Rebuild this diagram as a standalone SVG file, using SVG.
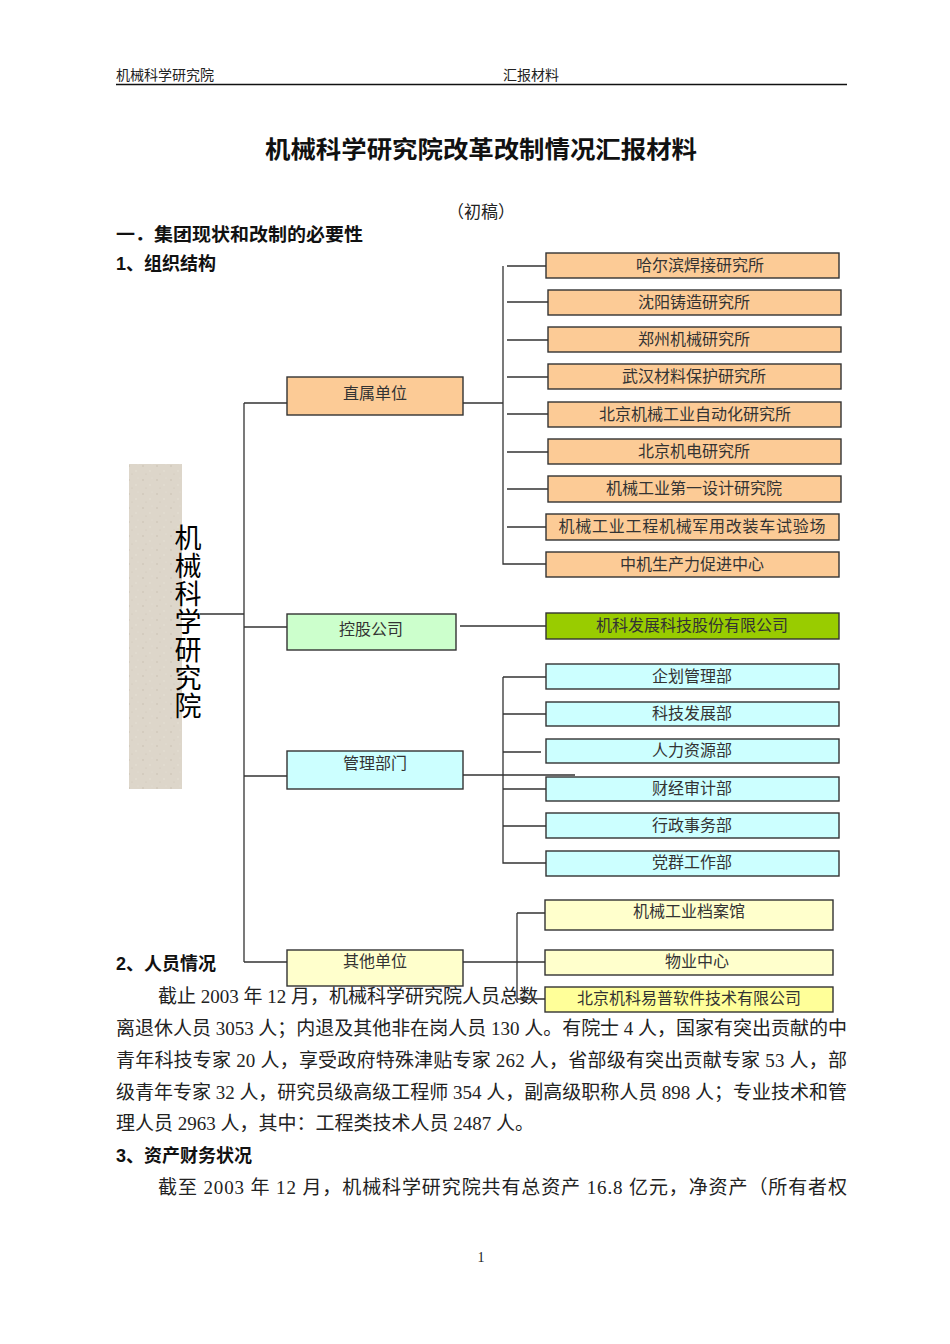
<svg xmlns="http://www.w3.org/2000/svg" width="950" height="1344" viewBox="0 0 950 1344">
<defs>
<pattern id="paper" width="14" height="14" patternUnits="userSpaceOnUse">
<rect width="14" height="14" fill="#DDD6CA"/>
<circle cx="3" cy="4" r="0.8" fill="#C9C0B2"/>
<circle cx="10" cy="9" r="0.7" fill="#EAE4DA"/>
<circle cx="6" cy="12" r="0.6" fill="#CFC6B8"/>
<circle cx="12" cy="2" r="0.5" fill="#E8E2D8"/>
</pattern>
<style>
.hdr{font-family:"Liberation Serif","Noto Sans CJK SC",serif;font-size:14px;fill:#222}
.h{font-family:"Liberation Sans","Noto Sans CJK SC",sans-serif;font-weight:bold;fill:#111}
.body{font-family:"Liberation Serif","Noto Sans CJK SC",serif;font-size:19px;fill:#222}
.box{stroke:#333;stroke-width:1.4}
.or{fill:#FCCB96}
.gr{fill:#CCFFCC}
.ol{fill:#99CC00}
.bl{fill:#CCFFFF}
.yl{fill:#FFFFCC}
.yb{fill:#FFFF99}
.lbl{font-family:"Noto Sans CJK SC",sans-serif;font-size:16px;fill:#333;text-anchor:middle}
.lbs{font-family:"Liberation Serif","Noto Sans CJK SC",serif;font-size:16px;fill:#333;text-anchor:middle}
.con{stroke:#333;stroke-width:1.3;fill:none}
.vt{font-family:"Noto Sans CJK SC",sans-serif;font-size:27px;fill:#000;writing-mode:vertical-rl;letter-spacing:1px}
</style>
</defs>
<rect width="950" height="1344" fill="#fff"/>

<g id="page-text">
<text class="hdr" x="116" y="80">机械科学研究院</text>
<text class="hdr" x="503" y="80">汇报材料</text>
<line x1="116" y1="84.5" x2="847" y2="84.5" stroke="#111" stroke-width="1.5"/>
<text class="h" x="481" y="158" font-size="24" text-anchor="middle" textLength="432" lengthAdjust="spacingAndGlyphs">机械科学研究院改革改制情况汇报材料</text>
<text x="481" y="218" font-family="Liberation Serif,Noto Sans CJK SC,serif" font-size="17" text-anchor="middle" fill="#222">（初稿）</text>
<text class="h" x="116" y="241" font-size="18" textLength="247" lengthAdjust="spacingAndGlyphs">一．集团现状和改制的必要性</text>
<text class="h" x="116" y="270" font-size="18">1、组织结构</text>
<text class="h" x="116" y="970" font-size="18">2、人员情况</text>
<text class="body" x="158" y="1003">截止 2003 年 12 月，机械科学研究院人员总数</text>
<text class="body" x="116" y="1035" textLength="731" lengthAdjust="spacing">离退休人员 3053 人；内退及其他非在岗人员 130 人。有院士 4 人，国家有突出贡献的中</text>
<text class="body" x="116" y="1067" textLength="731" lengthAdjust="spacing">青年科技专家 20 人，享受政府特殊津贴专家 262 人，省部级有突出贡献专家 53 人，部</text>
<text class="body" x="116" y="1099" textLength="731" lengthAdjust="spacing">级青年专家 32 人，研究员级高级工程师 354 人，副高级职称人员 898 人；专业技术和管</text>
<text class="body" x="116" y="1130">理人员 2963 人，其中：工程类技术人员 2487 人。</text>
<text class="h" x="116" y="1162" font-size="18">3、资产财务状况</text>
<text class="body" x="158" y="1194" textLength="689" lengthAdjust="spacing">截至 2003 年 12 月，机械科学研究院共有总资产 16.8 亿元，净资产（所有者权</text>
<text class="hdr" x="481" y="1262" text-anchor="middle">1</text>
</g>

<g id="connectors">
<path class="con" d="M200 614 H244 M244 403 V962 M244 403 H287 M244 627 H287 M244 776 H287 M244 962 H287"/>
<path class="con" d="M463 403 H503 M503 266 V564 H546 M507 266 H546 M507 302 H548 M507 340 H548 M507 377 H548 M507 414 H548 M507 452 H548 M507 489 H548 M507 527 H546"/>
<path class="con" d="M460 626 H546"/>
<path class="con" d="M463 775 H575 M503 677 V863 H546 M503 677 H546 M503 714 H546 M503 752 H541 M503 789 H546 M503 826 H546"/>
<path class="con" d="M463 962 H545 M517 913 V999 H545 M517 913 H545"/>
</g>

<g id="root">
<rect x="129" y="464" width="53" height="325" fill="url(#paper)"/>
<text class="vt" x="188" y="524">机械科学研究院</text>
</g>

<g id="n-zhishu"><rect class="box or" x="287" y="377" width="176" height="38"/><text class="lbl" x="375" y="399">直属单位</text></g>
<g id="n-konggu"><rect class="box gr" x="287" y="614" width="169" height="36"/><text class="lbl" x="371" y="635">控股公司</text></g>
<g id="n-guanli"><rect class="box bl" x="287" y="751" width="176" height="38"/><text class="lbl" x="375" y="769">管理部门</text></g>
<g id="n-qita"><rect class="box yl" x="287" y="950" width="176" height="36"/><text class="lbl" x="375" y="967">其他单位</text></g>

<g id="n-o1"><rect class="box or" x="546" y="253" width="293" height="25"/><text class="lbl" x="700" y="271">哈尔滨焊接研究所</text></g>
<g id="n-o2"><rect class="box or" x="548" y="290" width="293" height="25"/><text class="lbl" x="694" y="308">沈阳铸造研究所</text></g>
<g id="n-o3"><rect class="box or" x="548" y="327" width="293" height="25"/><text class="lbl" x="694" y="345">郑州机械研究所</text></g>
<g id="n-o4"><rect class="box or" x="548" y="364" width="293" height="25"/><text class="lbl" x="694" y="382">武汉材料保护研究所</text></g>
<g id="n-o5"><rect class="box or" x="548" y="402" width="293" height="25"/><text class="lbl" x="695" y="420">北京机械工业自动化研究所</text></g>
<g id="n-o6"><rect class="box or" x="548" y="439" width="293" height="25"/><text class="lbl" x="694" y="457">北京机电研究所</text></g>
<g id="n-o7"><rect class="box or" x="548" y="476" width="293" height="26"/><text class="lbl" x="694" y="494">机械工业第一设计研究院</text></g>
<g id="n-o8"><rect class="box or" x="546" y="514" width="293" height="26"/><text class="lbl" x="692" y="532" textLength="267" lengthAdjust="spacing">机械工业工程机械军用改装车试验场</text></g>
<g id="n-o9"><rect class="box or" x="546" y="552" width="293" height="25"/><text class="lbl" x="692" y="570">中机生产力促进中心</text></g>

<g id="n-g1"><rect class="box ol" x="546" y="613" width="293" height="26"/><text class="lbl" x="692" y="631">机科发展科技股份有限公司</text></g>

<g id="n-b1"><rect class="box bl" x="546" y="664" width="293" height="25"/><text class="lbs" x="692" y="682">企划管理部</text></g>
<g id="n-b2"><rect class="box bl" x="546" y="702" width="293" height="24"/><text class="lbs" x="692" y="719">科技发展部</text></g>
<g id="n-b3"><rect class="box bl" x="546" y="739" width="293" height="24"/><text class="lbs" x="692" y="756">人力资源部</text></g>
<g id="n-b4"><rect class="box bl" x="546" y="777" width="293" height="24"/><text class="lbs" x="692" y="794">财经审计部</text></g>
<g id="n-b5"><rect class="box bl" x="546" y="813" width="293" height="25"/><text class="lbs" x="692" y="831">行政事务部</text></g>
<g id="n-b6"><rect class="box bl" x="546" y="851" width="293" height="25"/><text class="lbs" x="692" y="868">党群工作部</text></g>

<g id="n-y1"><rect class="box yl" x="545" y="900" width="288" height="30"/><text class="lbs" x="689" y="917">机械工业档案馆</text></g>
<g id="n-y2"><rect class="box yl" x="545" y="950" width="288" height="25"/><text class="lbs" x="697" y="967">物业中心</text></g>
<g id="n-y3"><rect class="box yb" x="545" y="987" width="288" height="25"/><text class="lbl" x="689" y="1004">北京机科易普软件技术有限公司</text></g>
</svg>
